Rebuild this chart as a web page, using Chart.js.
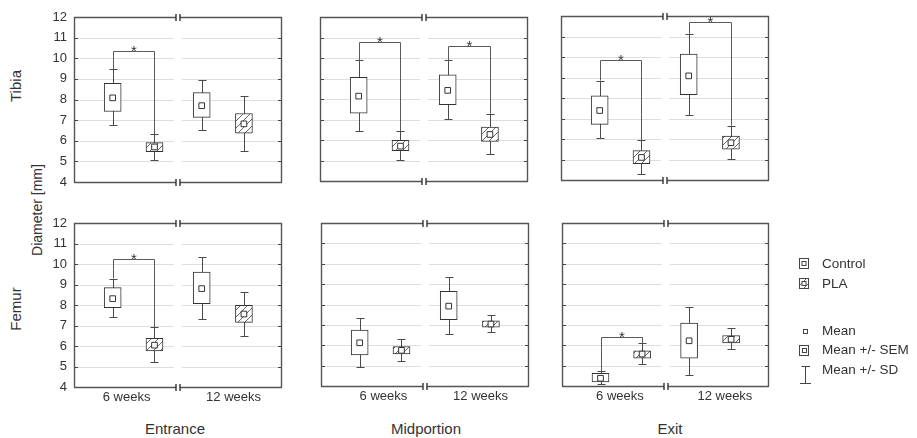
<!DOCTYPE html>
<html>
<head>
<meta charset="utf-8">
<script src="https://cdn.jsdelivr.net/npm/chart.js@4.4.1/dist/chart.umd.min.js"></script>
<style>
  body { margin: 0; background: #fff; width: 917px; height: 438px; overflow: hidden; position: relative;
         font-family: "Liberation Sans", Arial, sans-serif; color: #333; }
  canvas { position: absolute; left: 0; top: 0; }
  .lbl { position: absolute; white-space: nowrap; font-size: 15px; transform: translate(-50%, -50%); }
  .rot { transform: translate(-50%, -50%) rotate(-90deg); }
</style>
</head>
<body>
<div class="lbl rot" style="left:15px;top:86px">Tibia</div>
<div class="lbl rot" style="left:15px;top:309px">Femur</div>
<div class="lbl rot" style="left:37px;top:210px;font-size:14px">Diameter [mm]</div>
<div class="lbl" id="t0" style="left:175px;top:428px"></div>
<div class="lbl" id="t1" style="left:426px;top:428px"></div>
<div class="lbl" id="t2" style="left:670px;top:428px"></div>
<script>
const groups = ['6 weeks', '12 weeks'];
const sites = ['Entrance', 'Midportion', 'Exit'];
const treatments = ['Control', 'PLA'];
const statLabels = ['Mean', 'Mean +/- SEM', 'Mean +/- SD'];
const yTicks = [4, 5, 6, 7, 8, 9, 10, 11, 12];

// rows: Control 6w, PLA 6w, Control 12w, PLA 12w
// each row: [mean-SD, mean-SEM, mean, mean+SEM, mean+SD]
const tibiaEntrance = [[6.77, 7.42, 8.08, 8.78, 9.46], [5.07, 5.47, 5.70, 5.91, 6.32], [6.54, 7.13, 7.70, 8.33, 8.93], [5.52, 6.37, 6.82, 7.32, 8.18]];
const tibiaMidportion = [[6.42, 7.31, 8.14, 9.06, 9.88], [5.02, 5.48, 5.70, 5.98, 6.44], [7.04, 7.72, 8.42, 9.18, 9.88], [5.33, 5.93, 6.27, 6.63, 7.28]];
const tibiaExit = [[6.03, 6.71, 7.39, 8.11, 8.85], [4.28, 4.80, 5.10, 5.43, 5.96], [7.17, 8.16, 9.08, 10.14, 11.13], [5.01, 5.51, 5.82, 6.14, 6.65]];
const femurEntrance = [[7.43, 7.87, 8.31, 8.85, 9.29], [5.21, 5.76, 6.04, 6.38, 6.92], [7.33, 8.07, 8.80, 9.60, 10.33], [6.47, 7.15, 7.56, 7.98, 8.62]];
const femurMidportion = [[4.93, 5.52, 6.12, 6.74, 7.35], [5.21, 5.58, 5.75, 5.94, 6.29], [6.55, 7.25, 7.92, 8.65, 9.36], [6.63, 6.89, 7.04, 7.20, 7.49]];
const femurExit = [[4.10, 4.20, 4.38, 4.62, 4.72], [5.08, 5.37, 5.57, 5.73, 6.09], [4.54, 5.37, 6.22, 7.09, 7.89], [5.84, 6.12, 6.29, 6.48, 6.84]];

// significance brackets: [from row, to row, bracket height]
const tibiaEntranceSig = [[0, 1, 10.37]];
const tibiaMidportionSig = [[0, 1, 10.80], [2, 3, 10.57]];
const tibiaExitSig = [[0, 1, 9.83], [2, 3, 11.73]];
const femurEntranceSig = [[0, 1, 10.22]];
const femurMidportionSig = [];
const femurExitSig = [[0, 1, 6.42]];

sites.forEach((s, i) => document.getElementById('t' + i).textContent = s);

Chart.defaults.font.family = '"Liberation Sans", Arial, sans-serif';
Chart.defaults.color = '#333';

const boxX = [1.86, 3.87, 6.14, 8.17];

// hatch for PLA
const hc = document.createElement('canvas');
hc.width = 7; hc.height = 7;
const hx = hc.getContext('2d');
hx.fillStyle = '#fff'; hx.fillRect(0, 0, 7, 7);
hx.strokeStyle = '#555'; hx.lineWidth = 0.9;
hx.beginPath(); hx.moveTo(-1, 8); hx.lineTo(8, -1); hx.stroke();
const hatch = hx.createPattern(hc, 'repeat');

function line(ctx, x1, y1, x2, y2) {
    ctx.beginPath(); ctx.moveTo(x1, y1); ctx.lineTo(x2, y2); ctx.stroke();
}

const decor = {
    id: 'decor',
    beforeDatasetsDraw(chart) {
        const p = chart.config.options.panel;
        const ctx = chart.ctx;
        const { left: l, right: r, top: t, bottom: b } = chart.chartArea;
        const cx = Math.round((l + r) / 2);
        const xs = chart.scales.x, ys = chart.scales.y;
        ctx.save();
        ctx.lineWidth = 1;
        yTicks.forEach(v => {
            if (v === 4 || v === 12) return;
            const y = Math.round(ys.getPixelForValue(v)) + 0.5;
            ctx.strokeStyle = '#dedede';
            line(ctx, l, y, cx - 4, y);
            line(ctx, cx + 4, y, r, y);
            ctx.strokeStyle = '#444';
            line(ctx, l, y, l + 4, y);
            line(ctx, r - 4, y, r, y);
        });
        // frame with axis break
        ctx.strokeStyle = '#555';
        ctx.lineWidth = 1.4;
        line(ctx, l + 0.5, t, l + 0.5, b + 0.5);
        line(ctx, r - 0.5, t, r - 0.5, b + 0.5);
        [t + 0.5, b + 0.5].forEach(y => {
            line(ctx, l, y, cx - 2, y);
            line(ctx, cx + 2, y, r, y);
            ctx.strokeStyle = '#333';
            line(ctx, cx - 2, y - 3.5, cx - 2, y + 3.5);
            line(ctx, cx + 2, y - 3.5, cx + 2, y + 3.5);
            ctx.strokeStyle = '#555';
        });
        // whiskers (mean +/- SD)
        ctx.strokeStyle = '#4a4a4a';
        ctx.lineWidth = 1;
        p.stats.forEach((s, i) => {
            const x = Math.round(xs.getPixelForValue(boxX[i])) + 0.5;
            const y0 = Math.round(ys.getPixelForValue(s[0])) + 0.5;
            const y1 = Math.round(ys.getPixelForValue(s[4])) + 0.5;
            line(ctx, x, y0, x, y1);
            line(ctx, x - 4, y0, x + 4, y0);
            line(ctx, x - 4, y1, x + 4, y1);
        });
        // significance brackets
        ctx.strokeStyle = '#5a5a5a';
        ctx.fillStyle = '#333';
        ctx.font = '15px "Liberation Sans", Arial, sans-serif';
        ctx.textAlign = 'center';
        ctx.textBaseline = 'alphabetic';
        p.sig.forEach(([a, c, h]) => {
            const xa = Math.round(xs.getPixelForValue(boxX[a])) + 0.5;
            const xc = Math.round(xs.getPixelForValue(boxX[c])) + 0.5;
            const yh = Math.round(ys.getPixelForValue(h)) + 0.5;
            ctx.beginPath();
            ctx.moveTo(xa, ys.getPixelForValue(p.stats[a][4]));
            ctx.lineTo(xa, yh);
            ctx.lineTo(xc, yh);
            ctx.lineTo(xc, ys.getPixelForValue(p.stats[c][4]));
            ctx.stroke();
            ctx.fillText('*', (xa + xc) / 2, yh + 4);
        });
        ctx.restore();
    }
};

function meanBox(ctx, x, y, hatched) {
    ctx.fillStyle = hatched ? hatch : '#fff';
    ctx.fillRect(x, y, 10, 10);
    ctx.strokeRect(x + 0.5, y + 0.5, 9, 10);
    ctx.fillStyle = '#fff';
    ctx.fillRect(x + 3, y + 3.5, 4, 4);
    ctx.strokeRect(x + 3, y + 3.5, 4, 4);
}

const legend = {
    id: 'legendBlock',
    afterDraw(chart) {
        const ctx = chart.ctx;
        ctx.save();
        ctx.strokeStyle = '#444';
        ctx.lineWidth = 1;
        ctx.fillStyle = '#333';
        ctx.font = '13.5px "Liberation Sans", Arial, sans-serif';
        ctx.textBaseline = 'middle';
        const tx = 822;
        meanBox(ctx, 799, 258, false);
        meanBox(ctx, 799, 278, true);
        ctx.fillStyle = '#fff';
        ctx.fillRect(803, 329.5, 4, 4);
        ctx.strokeRect(803.5, 329.5, 4, 4);
        ctx.strokeRect(799.5, 345.5, 9, 10);
        ctx.strokeRect(802.5, 348.5, 4, 4);
        line(ctx, 805.5, 366, 805.5, 383);
        line(ctx, 801.5, 366.5, 810, 366.5);
        line(ctx, 800, 383.5, 811, 383.5);
        ctx.fillStyle = '#333';
        ctx.fillText(treatments[0], tx, 264);
        ctx.fillText(treatments[1], tx, 284);
        ctx.fillText(statLabels[0], tx, 331);
        ctx.fillText(statLabels[1], tx, 350);
        ctx.fillText(statLabels[2], tx, 370);
        ctx.restore();
    }
};

const panels = [
    { stats: tibiaEntrance, sig: tibiaEntranceSig, area: [74, 17, 282, 182], showY: true, showX: false },
    { stats: tibiaMidportion, sig: tibiaMidportionSig, area: [320, 17, 528, 181], showY: false, showX: false },
    { stats: tibiaExit, sig: tibiaExitSig, area: [561, 16, 769, 180], showY: false, showX: false },
    { stats: femurEntrance, sig: femurEntranceSig, area: [74, 223, 282, 387], showY: true, showX: true, groupAt: [2.53, 7.67] },
    { stats: femurMidportion, sig: femurMidportionSig, area: [321, 223, 529, 386], showY: false, showX: true, groupAt: [3.0, 7.67] },
    { stats: femurExit, sig: femurExitSig, area: [562, 223, 769, 386], showY: false, showX: true, groupAt: [2.8, 7.87] }
];

panels.forEach((p, k) => {
    const canvas = document.createElement('canvas');
    canvas.width = 917; canvas.height = 438;
    document.body.appendChild(canvas);
    const [l, t, r, b] = p.area;
    const yW = p.showY ? 30 : 0;
    const xH = p.showX ? 30 : 0;
    new Chart(canvas, {
        type: 'bar',
        data: {
            datasets: [
                {
                    type: 'scatter',
                    order: 0,
                    data: p.stats.map((s, i) => ({ x: boxX[i], y: s[2] })),
                    pointStyle: 'rect',
                    pointRadius: 4,
                    backgroundColor: '#fff',
                    borderColor: '#333',
                    borderWidth: 1
                },
                {
                    type: 'bar',
                    order: 1,
                    data: p.stats.map((s, i) => ({ x: boxX[i], y: [s[1], s[3]] })),
                    backgroundColor: p.stats.map((s, i) => i % 2 ? hatch : '#fff'),
                    borderColor: '#333',
                    borderWidth: 1,
                    borderSkipped: false,
                    barThickness: 17
                }
            ]
        },
        options: {
            panel: p,
            responsive: false,
            animation: false,
            events: [],
            layout: { padding: { left: l - yW, top: t, right: 917 - r, bottom: 438 - b - xH } },
            plugins: { legend: { display: false }, tooltip: { enabled: false } },
            scales: {
                x: {
                    type: 'linear', min: 0, max: 10, offset: false,
                    display: p.showX,
                    grid: { display: false, drawTicks: false },
                    border: { display: false },
                    afterBuildTicks: s => { s.ticks = (p.groupAt || []).map(v => ({ value: v })); },
                    afterFit: s => { s.height = xH; },
                    ticks: { callback: (v, i) => groups[i], font: { size: 13 }, color: '#333', padding: 3, autoSkip: false, maxRotation: 0 }
                },
                y: {
                    min: 4, max: 12,
                    display: p.showY,
                    grid: { display: false, drawTicks: false },
                    border: { display: false },
                    afterBuildTicks: s => { s.ticks = yTicks.map(v => ({ value: v })); },
                    afterFit: s => { s.width = yW; },
                    ticks: { font: { size: 13 }, color: '#333', padding: 7 }
                }
            }
        },
        plugins: k === 5 ? [decor, legend] : [decor]
    });
});
</script>
</body>
</html>
